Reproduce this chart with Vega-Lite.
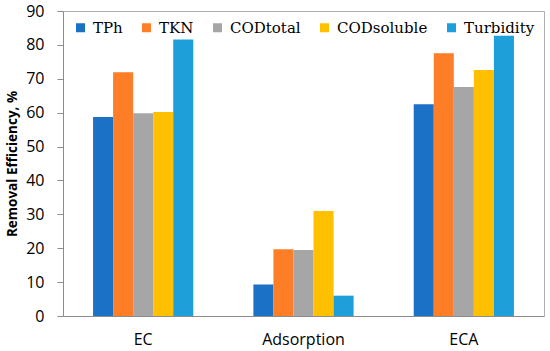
{
  "$schema": "https://vega.github.io/schema/vega-lite/v6.json",
  "width": 481,
  "height": 305,
  "autosize": {"type": "none"},
  "padding": {"left": 63, "top": 11, "right": 6, "bottom": 35},
  "background": "white",
  "config": {
    "view": {"stroke": "#b0b0b0", "strokeWidth": 1},
    "font": "Open Sans"
  },
  "data": {
    "values": [
      {"process": "EC", "param": "TPh", "value": 58.7},
      {"process": "EC", "param": "TKN", "value": 71.9},
      {"process": "EC", "param": "CODtotal", "value": 59.8},
      {"process": "EC", "param": "CODsoluble", "value": 60.2},
      {"process": "EC", "param": "Turbidity", "value": 81.6},
      {"process": "Adsorption", "param": "TPh", "value": 9.3},
      {"process": "Adsorption", "param": "TKN", "value": 19.7},
      {"process": "Adsorption", "param": "CODtotal", "value": 19.5},
      {"process": "Adsorption", "param": "CODsoluble", "value": 31.0},
      {"process": "Adsorption", "param": "Turbidity", "value": 6.0},
      {"process": "ECA", "param": "TPh", "value": 62.5},
      {"process": "ECA", "param": "TKN", "value": 77.5},
      {"process": "ECA", "param": "CODtotal", "value": 67.6},
      {"process": "ECA", "param": "CODsoluble", "value": 72.6},
      {"process": "ECA", "param": "Turbidity", "value": 82.7}
    ]
  },
  "mark": {"type": "bar"},
  "encoding": {
    "x": {
      "field": "process",
      "type": "nominal",
      "sort": ["EC", "Adsorption", "ECA"],
      "scale": {"paddingInner": 0.375, "paddingOuter": 0.1875},
      "axis": {
        "title": null,
        "labelAngle": 0,
        "ticks": false,
        "tickSize": 0,
        "labelPadding": 15,
        "labelFontSize": 16,
        "labelFont": "Open Sans",
        "labelColor": "#000000",
        "domainColor": "#8c8c8c"
      }
    },
    "xOffset": {
      "field": "param",
      "type": "nominal",
      "sort": ["TPh", "TKN", "CODtotal", "CODsoluble", "Turbidity"],
      "scale": {"paddingInner": 0, "paddingOuter": 0}
    },
    "y": {
      "field": "value",
      "type": "quantitative",
      "scale": {"domain": [0, 90], "nice": false},
      "axis": {
        "title": "Removal Efficiency, %",
        "titleFont": "Open Sans",
        "titleFontSize": 13.5,
        "titleFontWeight": "bold",
        "titleColor": "#000000",
        "titlePadding": 6,
        "values": [0, 10, 20, 30, 40, 50, 60, 70, 80, 90],
        "grid": false,
        "tickSize": 6,
        "tickColor": "#8c8c8c",
        "domainColor": "#8c8c8c",
        "labelPadding": 13,
        "labelFontSize": 16,
        "labelFont": "Open Sans",
        "labelColor": "#000000"
      }
    },
    "color": {
      "field": "param",
      "type": "nominal",
      "sort": ["TPh", "TKN", "CODtotal", "CODsoluble", "Turbidity"],
      "scale": {
        "domain": ["TPh", "TKN", "CODtotal", "CODsoluble", "Turbidity"],
        "range": ["#1B71C6", "#FD7E26", "#A6A6A6", "#FFC000", "#1F9FD9"]
      },
      "legend": {
        "title": null,
        "orient": "none",
        "legendX": 10,
        "legendY": 9,
        "direction": "horizontal",
        "symbolType": "square",
        "symbolSize": 81,
        "symbolStrokeWidth": 0,
        "labelFont": "DejaVu Serif",
        "labelFontSize": 15,
        "labelColor": "#000000",
        "labelOffset": 5,
        "columnPadding": 16
      }
    }
  }
}
